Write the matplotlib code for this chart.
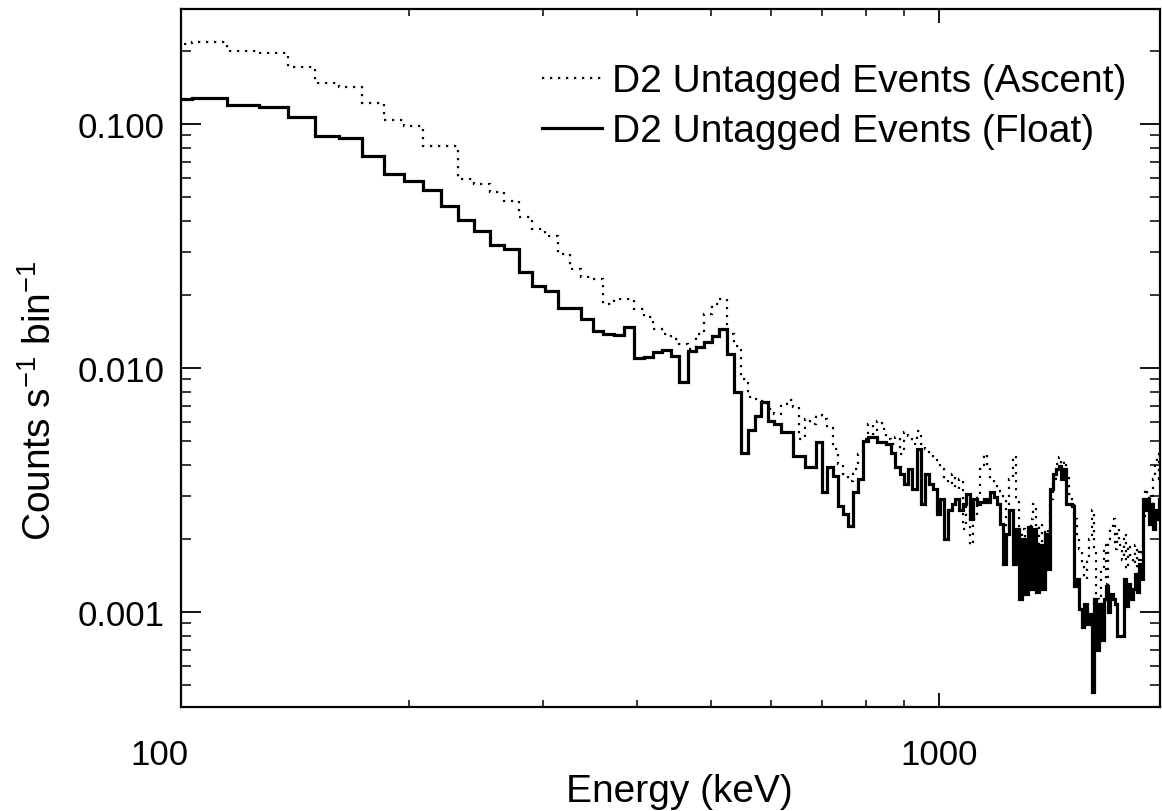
import numpy as np
import matplotlib
matplotlib.use("Agg")
import matplotlib.pyplot as plt
import matplotlib.transforms as mtransforms

# Energy binning: linear bins of 11.7 keV starting at 91.6 keV
bin_start = 91.6
bin_width = 11.7

ascent = [
    0.2128, 0.2161, 0.1986, 0.1954, 0.1718, 0.1468, 0.1422, 0.1215, 0.1038, 0.0984,
    0.0815, 0.0815, 0.0595, 0.0568, 0.0525, 0.0484, 0.0416, 0.0371, 0.0348, 0.0293,
    0.0254, 0.0236, 0.0232, 0.0183, 0.0192, 0.0192, 0.0175, 0.0162, 0.01445, 0.0138,
    0.01315, 0.01254, 0.01197, 0.0138, 0.01665, 0.0183, 0.0192, 0.0138, 0.0123, 0.00902,
    0.0076, 0.00746, 0.0073, 0.00679, 0.00648, 0.00712, 0.0074, 0.0069, 0.00512, 0.00618,
    0.0059, 0.0064, 0.0062, 0.0057, 0.00465, 0.00404, 0.00367, 0.00344, 0.00385, 0.00444,
    0.00512, 0.00590, 0.00536, 0.00608, 0.00562, 0.00512, 0.00488, 0.00521, 0.00444, 0.00546,
    0.00526, 0.00488, 0.00552, 0.00488, 0.00465, 0.00444, 0.00423, 0.00404, 0.00385, 0.00350,
    0.00334, 0.00367, 0.00318, 0.00350, 0.00218, 0.00290, 0.00189, 0.00240, 0.00304, 0.00385,
    0.00444, 0.00404, 0.00350, 0.00334, 0.00312, 0.00304, 0.00290, 0.00218, 0.00350, 0.00436,
    0.00290, 0.00181, 0.00218, 0.00157, 0.00199, 0.00240, 0.00276, 0.00189, 0.00229, 0.00172,
    0.00218, 0.00189, 0.00290, 0.00350, 0.00404, 0.00431, 0.00385, 0.00415, 0.00367, 0.00304,
    0.00276, 0.00240, 0.00199, 0.00181, 0.00157, 0.00136, 0.00164, 0.00199, 0.00263, 0.00181,
    0.00113, 0.00077, 0.00150, 0.00189, 0.00130, 0.00199, 0.00218, 0.00240, 0.00181, 0.00218,
    0.00189, 0.00164, 0.00208, 0.00150, 0.00189, 0.00172, 0.00157, 0.00189, 0.00143, 0.00181,
    0.00164, 0.00240, 0.00318, 0.00263, 0.00304, 0.00240, 0.00350, 0.00404, 0.00444, 0.00350,
    0.00423, 0.00385, 0.00318, 0.00290,
]

float_ = [
    0.1266, 0.1284, 0.120, 0.1177, 0.1065, 0.0891, 0.0874, 0.0742, 0.0624, 0.0582,
    0.0538, 0.0463, 0.0405, 0.0365, 0.0319, 0.0308, 0.0248, 0.0216, 0.0207, 0.0176,
    0.0176, 0.0159, 0.0142, 0.0138, 0.01365, 0.01468, 0.01096, 0.01112, 0.01160, 0.01189,
    0.01117, 0.00879, 0.01177, 0.01216, 0.01282, 0.01356, 0.01445, 0.01141, 0.00795, 0.00447,
    0.00559, 0.00637, 0.00723, 0.00608, 0.00590, 0.00545, 0.00545, 0.00435, 0.00435, 0.00392,
    0.00392, 0.00496, 0.00310, 0.00392, 0.00362, 0.00273, 0.00252, 0.00226, 0.00310, 0.00351,
    0.00504, 0.00520, 0.00520, 0.00496, 0.00496, 0.00488, 0.00450, 0.00392, 0.00367, 0.00334,
    0.00385, 0.00318, 0.00465, 0.00276, 0.00367, 0.00334, 0.00318, 0.00251, 0.00290, 0.00199,
    0.00263, 0.00276, 0.00290, 0.00263, 0.00276, 0.00304, 0.00240, 0.00290, 0.00276, 0.00282,
    0.00290, 0.00282, 0.00309, 0.00295, 0.00276, 0.00229, 0.00157, 0.00208, 0.00263, 0.00157,
    0.00218, 0.00113, 0.00199, 0.00118, 0.00224, 0.00124, 0.00218, 0.00121, 0.00189, 0.00124,
    0.00208, 0.00150, 0.00318, 0.00367, 0.00385, 0.00396, 0.00350, 0.00385, 0.00276, 0.00276,
    0.00271, 0.00128, 0.00136, 0.00103, 0.00087, 0.00108, 0.00089, 0.00098, 0.00047, 0.00113,
    0.00070, 0.00108, 0.00077, 0.00113, 0.00128, 0.00100, 0.00118, 0.00113, 0.00108, 0.00080,
    0.00080, 0.00080, 0.00136, 0.00106, 0.00130, 0.00113, 0.00124, 0.00143, 0.00121, 0.00157,
    0.00136, 0.00290, 0.00263, 0.00290, 0.00229, 0.00276, 0.00218, 0.00263, 0.00240, 0.00290,
    0.00404, 0.00218, 0.00385, 0.00263,
]

labels = ["D2 Untagged Events (Ascent)", "D2 Untagged Events (Float)"]
xticks = [100, 1000]
xtick_labels = ["100", "1000"]
yticks = [0.001, 0.010, 0.100]
ytick_labels = ["0.001", "0.010", "0.100"]

edges = bin_start + bin_width * np.arange(len(float_) + 1)

plt.rcParams['font.family'] = ['Liberation Sans', 'DejaVu Sans']
plt.rcParams['mathtext.fontset'] = 'custom'
plt.rcParams['mathtext.rm'] = 'Liberation Sans'
plt.rcParams['mathtext.it'] = 'Liberation Sans'

fig = plt.figure(figsize=(11.62, 8.12), dpi=100)
ax = fig.add_axes([181 / 1162, (812 - 708) / 812, (1160 - 181) / 1162, (708 - 10) / 812])

ax.stairs(ascent, edges, color='black', lw=1.6, linestyle=(0, (1, 2.6)), label=labels[0])
ax.stairs(float_, edges, color='black', lw=2.3, label=labels[1])

ax.set_xscale('log')
ax.set_yscale('log')
ax.set_xlim(100, 1956)
ax.set_ylim(0.000408, 0.296)

ax.set_xticks(xticks)
ax.set_xticklabels(xtick_labels)
ax.set_yticks(yticks)
ax.set_yticklabels(ytick_labels)

for s in ax.spines.values():
    s.set_linewidth(1.6)

ax.tick_params(axis='x', which='major', direction='in', length=10, width=1.3,
               top=True, labelsize=25, pad=22)
ax.tick_params(axis='x', which='minor', direction='in', length=5, width=1.1, top=True)
ax.tick_params(axis='y', which='major', direction='in', length=14.5, width=1.3,
               right=True, labelsize=25, pad=12)
ax.tick_params(axis='y', which='minor', direction='in', length=7, width=1.1, right=True)

# shift the first x tick label a little to the left, as in the reference
first = ax.get_xticklabels()[0]
first.set_transform(first.get_transform() + mtransforms.ScaledTranslation(-22 / 100, 0, fig.dpi_scale_trans))

ax.set_xlabel("Energy (keV)", fontsize=28)
ax.xaxis.set_label_coords(0.509, -0.094)
ax.set_ylabel("Counts s$^{\\mathregular{-1}}$ bin$^{\\mathregular{-1}}$", fontsize=28)
ax.yaxis.set_label_coords(-0.125, 0.44)

leg = ax.legend(loc='upper right', bbox_to_anchor=(0.966, 0.922), frameon=False,
                fontsize=28, handlelength=1.54, handletextpad=0.26, labelspacing=0.36,
                borderpad=0, borderaxespad=0)

fig.savefig("out.png", dpi=100)
